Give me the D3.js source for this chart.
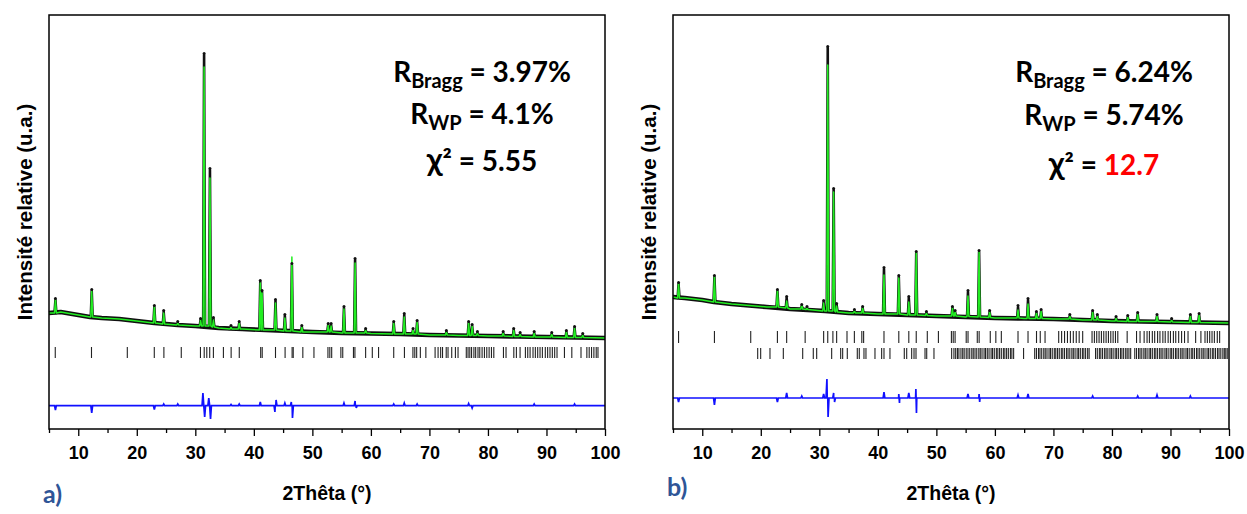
<!DOCTYPE html>
<html><head><meta charset="utf-8">
<script src="https://cdn.jsdelivr.net/npm/d3@7"></script>
<style>
body{margin:0;background:#fff;}
svg{display:block;}
</style></head><body>
<svg id="chart" width="1247" height="514"></svg>
<script>
// ---------------- DATA ----------------
const xMajorTicks = [10,20,30,40,50,60,70,80,90,100];
const xMinorTicks = [5,15,25,35,45,55,65,75,85,95];
const xTitle = "2Thêta (°)";
const yTitle = "Intensité relative (u.a.)";

// Panel a : background (2theta, intensity)
const bgA_x = [5,7,10,12,14,17,20,23,27,30,34,38,42,46,50,55,60,65,70,75,80,85,90,95,100];
const bgA_y = [116,117,114,112,111,110,108,106,104,103,101,100,99,98,97,96,95.5,95,94,93.5,93,92.5,92,91.5,91];
// Panel a : peaks
const peakA_pos  = [6.1,12.3,23.0,24.6,27.0,30.9,31.5,32.5,33.1,36.1,37.5,41.1,41.4,43.7,45.3,46.5,48.2,52.7,53.2,55.4,57.3,59.1,63.9,65.7,67.2,67.9,72.9,76.7,77.3,78.2,82.6,84.4,85.5,87.9,90.9,93.4,94.8,96.2];
const peakA_calc = [130,138,123,116,106,109,362,251,109,102,106,146,136,126,111,172,102,104,103,120,166,99,106,112,99,107,97,106,103,96,96,99,95,96,95,97,101,94];
const peakA_obs  = [129,138,122,117,106,109,374,259,110,102,106,147,137,128,113,164,102,104,104,121,169,99,106,114,99,107,97,106,103,96,96,99,95,96,95,97,101,94];
const peakA_base = [116,112,106,105,104,103,103,103,102,100,100,99,99,99,98,98,97,97,97,96,96,96,95,95,95,95,94,93.5,93.5,93.5,93,92.5,92.5,92,92,91.5,91.5,91.5];
// Panel a : difference curve
const diffA_zero = 23.3;
const diffA_pos = [6.1,12.3,23.0,24.6,27.0,31.3,31.6,32.3,32.6,36.1,37.5,41.1,43.6,43.8,45.3,46.4,46.6,55.4,57.3,57.5,63.9,65.7,67.9,76.7,77.3,87.9,94.8];
const diffA_val = [19,16,19.5,25,25,36,12,31,10,24.5,25,27,17,29,26,27,11,26,28,21,25,26,25,25.5,21,25,25];
// Panel a : Bragg positions
const braggA = [6.07,12.26,18.38,22.99,24.63,27.60,30.88,31.52,31.96,32.46,33.09,34.80,36.12,37.51,41.17,41.43,43.70,45.34,46.54,46.73,48.37,50.27,52.66,52.98,53.30,54.87,55.19,57.02,57.27,59.10,60.24,61.31,63.90,65.73,67.18,67.50,67.82,68.45,69.39,70.97,71.48,71.92,72.24,72.87,73.18,73.81,74.44,74.89,76.3,76.6,76.9,77.2,77.6,77.9,78.3,78.6,79.0,79.4,79.8,80.2,80.6,81.0,82.65,83.09,84.42,84.86,85.49,86.4,86.8,87.2,87.7,88.1,88.5,88.9,89.3,89.8,90.2,90.6,91.0,91.4,91.8,93.07,94.33,95.9,96.9,97.3,97.7,98.1,98.5,98.8];

// Panel b : background
const bgB_x = [5,7,10,12,15,18,21,25,28,31,35,40,45,50,55,60,65,70,75,80,85,90,95,100];
const bgB_y = [132,131,129,127,125,123.5,122,120,119,118,116,115,114,113,112,111,110.5,110,109,108,107.5,107,106.5,106];
// Panel b : peaks
const peakB_pos  = [5.95,12.08,22.84,24.42,27.0,27.9,30.74,31.44,32.45,32.96,36.0,37.4,41.05,43.58,45.29,46.56,48.3,52.75,53.2,55.4,57.3,59.1,63.95,65.66,67.1,67.9,72.8,76.7,77.5,80.7,82.7,84.4,87.7,90.2,93.4,94.9];
const peakB_calc = [146,153,139,128,124,121,126,364,237,123,118,121,154,151,127,177,116,121,117,133,177,117,119,125,116,118,113,117,113,111,112,115,113,109,113,114];
const peakB_obs  = [145,152,138,131,123,121,127,381,239,124,118,121,160,152,131,176,116,121,117,137,177,117,122,129,116,118,113,117,113,111,112,115,113,109,113,114];
const peakB_base = [131,127,122,121,120,119.5,118,118,118,117,116,116,115,115,114,114,113.5,113,113,112.5,112,111.5,111,110.5,110.5,110.5,110,109,109,108,107.5,107.5,107.5,107,106.5,106.5];
// Panel b : difference curve
const diffB_zero = 31;
const diffB_pos = [5.95,12.08,22.84,24.42,27.0,30.74,31.3,31.5,32.45,32.6,41.05,43.58,43.7,45.29,46.5,46.6,55.4,57.3,57.4,63.95,65.66,76.7,84.4,87.7,93.4];
const diffB_val = [27,24,27,36,33,35,50,12,36,27,37,35,26,36,40,16,35,35,27,34,35,33,33,34,33];
// Panel b : Bragg positions, phase 1 and phase 2
const braggB1 = [5.95,12.08,18.28,22.84,24.42,27.58,30.74,31.44,32.32,32.96,34.73,35.99,37.26,37.57,41.05,43.58,45.29,46.56,48.45,50.35,52.57,52.88,53.20,55.10,55.41,56.99,57.31,59.21,60.16,61.10,63.95,65.66,67.11,67.75,68.57,70.9,71.4,71.9,72.4,72.9,73.4,73.9,74.4,75.0,76.6,77.0,77.4,77.8,78.2,78.6,79.0,79.4,79.8,80.2,80.6,81.0,82.6,84.2,84.8,85.5,86.0,86.4,86.9,87.3,87.8,88.2,88.7,89.1,89.6,90.0,90.5,90.9,91.4,91.9,92.4,93.0,94.3,95.2,95.9,96.3,96.7,97.1,97.5,98.0,98.4];
const braggB2 = [19.47,19.98,21.57,23.85,27.16,28.97,29.55,32.11,33.65,33.99,34.78,36.49,36.83,37.63,37.97,39.51,40.65,41.05,42.07,44.52,44.93,45.78,46.18,46.52,48.06,48.35,49.59,52.61,53.0,53.3,53.6,53.85,54.2,54.5,54.75,55.1,55.4,55.7,56.05,56.3,56.6,56.9,57.25,57.5,57.8,58.15,58.4,58.7,59.0,59.35,59.6,59.9,60.25,60.5,60.8,61.1,61.45,61.7,62.0,62.3,62.65,62.9,63.2,64.9,66.8,67.1,67.45,67.7,68.0,68.35,68.6,68.9,69.25,69.5,69.8,70.15,70.4,70.7,71.0,71.35,71.6,71.9,72.25,72.5,72.8,73.15,73.4,73.7,74.05,74.3,74.6,74.95,75.2,75.5,75.85,76.1,77.2,77.5,77.85,78.1,78.4,78.75,79.0,79.3,79.65,79.9,80.2,80.55,80.8,81.1,81.45,81.7,82.0,82.35,82.6,82.9,83.2,83.9,84.2,84.55,84.8,85.1,85.45,85.7,86.0,86.35,86.6,86.9,87.25,87.5,87.8,88.15,88.4,88.7,89.05,89.3,89.6,89.95,90.2,90.5,90.85,91.1,91.4,91.75,92.0,92.3,92.65,92.9,93.2,93.55,93.8,94.1,94.45,94.7,95.0,95.35,95.6,95.9,96.25,96.5,96.8,97.15,97.4,97.7,98.05,98.3,98.6,98.95,99.2,99.45,99.7];

// Refinement statistics
const panelLabels = ["a)", "b)"];
const rBragg = ["3.97%", "6.24%"];
const rWp = ["4.1%", "5.74%"];
const chi2 = ["5.55", "12.7"];
const chi2Highlight = [false, true];

// ---------------- DRAWING ----------------
const svg = d3.select("#chart");
const TOP = 15, BOTTOM = 429;
const tickFont = "'Liberation Sans', Arial, sans-serif";
const statFont = "Lato, 'Open Sans', sans-serif";

const panels = [
  {left:49, right:605, bgx:bgA_x, bgy:bgA_y, pos:peakA_pos, calc:peakA_calc, obs:peakA_obs, base:peakA_base,
   dzero:diffA_zero, dpos:diffA_pos, dval:diffA_val, bragg:[[braggA,347,358]],
   statX:482, statY:[82,124,171], yTitleX:32, labelX:43, labelY:503},
  {left:673, right:1229, bgx:bgB_x, bgy:bgB_y, pos:peakB_pos, calc:peakB_calc, obs:peakB_obs, base:peakB_base,
   dzero:diffB_zero, dpos:diffB_pos, dval:diffB_val, bragg:[[braggB1,331,343],[braggB2,348,359]],
   statX:1104, statY:[82,125,175], yTitleX:656, labelX:667, labelY:496}
];

function buildProfile(bgx, bgy, pos, top, base, hw) {
  const pts = [];
  bgx.forEach((x,i) => {
    if (!pos.some(p => Math.abs(x - p) < hw)) pts.push([x, bgy[i]]);
  });
  pos.forEach((p,i) => { pts.push([p-hw, base[i]], [p, top[i]], [p+hw, base[i]]); });
  pts.sort((a,b) => a[0]-b[0]);
  return pts;
}
function buildDiff(zero, pos, val, hw) {
  const pts = [[5, zero], [100, zero]];
  pos.forEach((p,i) => { pts.push([p-hw, zero], [p, val[i]], [p+hw, zero]); });
  pts.sort((a,b) => a[0]-b[0]);
  return pts;
}

panels.forEach((P, k) => {
  const x = d3.scaleLinear().domain([5,100]).range([P.left, P.right]);
  const y = d3.scaleLinear().domain([0,414]).range([BOTTOM, TOP]);
  const g = svg.append("g");
  const line = d3.line().x(d => x(d[0])).y(d => y(d[1]));

  const obsPts = buildProfile(P.bgx, P.bgy, P.pos, P.obs, P.base, 0.16);
  const calcPts = buildProfile(P.bgx, P.bgy, P.pos, P.calc, P.base, 0.16);

  // observed background band (black, thick)
  g.append("path").attr("d", line(P.bgx.map((v,i)=>[v,P.bgy[i]]))).attr("fill","none")
    .attr("stroke","#111").attr("stroke-width",4.6).attr("stroke-linejoin","round");
  // observed (black)
  g.append("path").attr("d", line(obsPts)).attr("fill","none")
    .attr("stroke","#111").attr("stroke-width",2.6).attr("stroke-linejoin","round");
  // calculated (green)
  g.append("path").attr("d", line(calcPts)).attr("fill","none")
    .attr("stroke","#22ee22").attr("stroke-width",1.5).attr("stroke-linejoin","round");
  // observed peak tops
  g.selectAll("circle.obs").data(P.pos.map((p,i)=>[p,P.obs[i]])).enter().append("circle")
    .attr("cx", d=>x(d[0])).attr("cy", d=>y(d[1])-1.5).attr("r",1.5).attr("fill","#111");

  // Bragg ticks
  P.bragg.forEach(([arr, y0, y1]) => {
    g.selectAll(null).data(arr).enter().append("line")
      .attr("x1", d=>x(d)).attr("x2", d=>x(d)).attr("y1", y0).attr("y2", y1)
      .attr("stroke","#222").attr("stroke-width",1.1);
  });

  // difference
  g.append("path").attr("d", line(buildDiff(P.dzero, P.dpos, P.dval, 0.15))).attr("fill","none")
    .attr("stroke","#1010ff").attr("stroke-width",1.7);

  // frame
  g.append("rect").attr("x",P.left).attr("y",TOP).attr("width",P.right-P.left).attr("height",BOTTOM-TOP)
    .attr("fill","none").attr("stroke","#000").attr("stroke-width",1.5);

  // axes
  const ax = g.append("g").attr("transform",`translate(0,${BOTTOM})`)
    .call(d3.axisBottom(x).tickValues(xMajorTicks).tickSize(7).tickPadding(10));
  ax.select(".domain").remove();
  ax.selectAll("line").attr("stroke","#000").attr("stroke-width",1.3);
  ax.selectAll("text").attr("font-family",tickFont).attr("font-weight","bold").attr("font-size",18).attr("fill","#000");
  const axm = g.append("g").attr("transform",`translate(0,${BOTTOM})`)
    .call(d3.axisBottom(x).tickValues(xMinorTicks).tickSize(4).tickFormat(""));
  axm.select(".domain").remove();
  axm.selectAll("line").attr("stroke","#000").attr("stroke-width",1.3);

  // titles
  g.append("text").attr("x",(P.left+P.right)/2).attr("y",500).attr("text-anchor","middle")
    .attr("font-family",tickFont).attr("font-weight","bold").attr("font-size",19.5).text(xTitle);
  g.append("text").attr("transform",`translate(${P.yTitleX},212) rotate(-90)`).attr("text-anchor","middle")
    .attr("font-family",tickFont).attr("font-weight","bold").attr("font-size",20.5).text(yTitle);

  // panel label
  g.append("text").attr("x",P.labelX).attr("y",P.labelY).attr("font-family",statFont)
    .attr("font-weight","bold").attr("font-size",25).attr("fill","#2f5597").text(panelLabels[k]);

  // statistics
  const fs = 28, fsub = 20;
  const t1 = g.append("text").attr("x",P.statX).attr("y",P.statY[0]).attr("text-anchor","middle")
    .attr("font-family",statFont).attr("font-weight","bold").attr("font-size",fs);
  t1.append("tspan").text("R");
  t1.append("tspan").attr("font-size",fsub).attr("dy",6).text("Bragg");
  t1.append("tspan").attr("dy",-6).text(" = " + rBragg[k]);
  const t2 = g.append("text").attr("x",P.statX).attr("y",P.statY[1]).attr("text-anchor","middle")
    .attr("font-family",statFont).attr("font-weight","bold").attr("font-size",fs);
  t2.append("tspan").text("R");
  t2.append("tspan").attr("font-size",fsub).attr("dy",6).text("WP");
  t2.append("tspan").attr("dy",-6).text(" = " + rWp[k]);
  const t3 = g.append("text").attr("x",P.statX).attr("y",P.statY[2]).attr("text-anchor","middle")
    .attr("font-family",statFont).attr("font-weight","bold").attr("font-size",fs);
  t3.append("tspan").attr("font-size",32).text("χ");
  t3.append("tspan").text("² = ");
  t3.append("tspan").attr("fill", chi2Highlight[k] ? "#ff0000" : "#000").text(chi2[k]);
});
</script>
</body></html>
